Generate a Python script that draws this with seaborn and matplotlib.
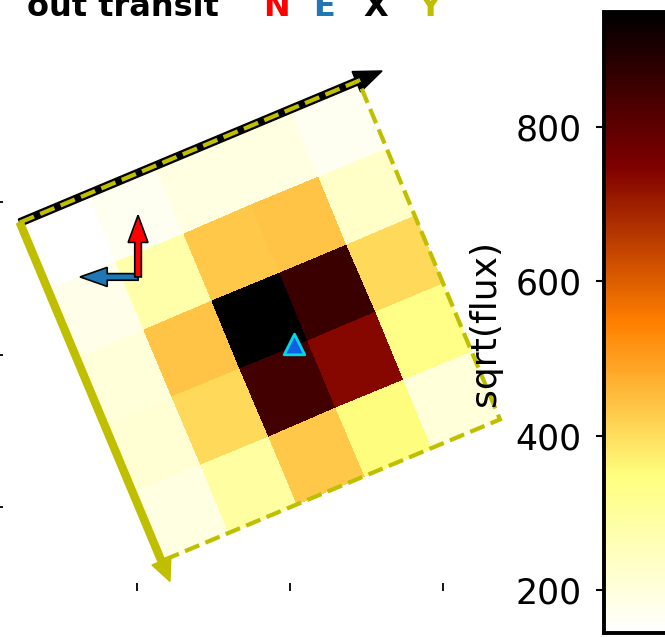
import numpy as np
import matplotlib
matplotlib.use("Agg")
import matplotlib.pyplot as plt
import matplotlib.transforms as mtransforms
from matplotlib.patches import Rectangle
import seaborn as sns

# sqrt(flux) of the 5x5 stamp, rows listed from the top (X arrow) edge
row0 = [144, 168, 192, 192, 168]
row1 = [180, 281, 432, 438, 233]
row2 = [204, 438, 949, 855, 406]
row3 = [216, 406, 845, 736, 333]
row4 = [192, 294, 432, 350, 204]
flux = np.array([row0, row1, row2, row3, row4])

vmin, vmax = 144, 949
cbar_ticks = [200, 400, 600, 800]

# target position in stamp pixels (column, row)
target_col = [2.8]
target_row = [2.97]

title = "out transit"
letters = ["N", "E", "X", "Y"]
letter_colors = ["#ff0000", "#1f77b4", "black", "y"]

# tick locations of the sky frame (labels cut away in the original)
xtick_pos = [1.83, 3.91, 5.99]
ytick_pos = [5.19, 3.11, 1.03]

sns.set_style("ticks")
plt.rcParams["font.family"] = ["DejaVu Sans"]
plt.rcParams["text.color"] = "black"
plt.rcParams["axes.labelcolor"] = "black"
plt.rcParams["xtick.color"] = "black"
plt.rcParams["ytick.color"] = "black"

W, H = 665, 637
fig = plt.figure(figsize=(W / 100, H / 100), dpi=100)


def px_box(l, t, r, b):
    return [l / W, 1 - b / H, (r - l) / W, (b - t) / H]


ax = fig.add_axes(px_box(3, 70, 513, 583))
cax = fig.add_axes(px_box(604, 12, 720, 633))

sns.heatmap(flux, ax=ax, cmap="afmhot_r", vmin=vmin, vmax=vmax, cbar_ax=cax,
            xticklabels=False, yticklabels=False,
            cbar_kws={"ticks": cbar_ticks, "ticklocation": "left"})

cell = 73.4  # pixels per stamp pixel
angle = 22.7
grid_tr = (mtransforms.Affine2D().translate(-2.5, -2.5).scale(1, -1)
           .rotate_deg(angle).translate(3.50, 3.57) + ax.transData)
mesh = ax.collections[0]
mesh.set_transform(grid_tr)

# X / Y pixel direction arrows along the stamp edges
ax.arrow(0, 0, 5.35, 0, transform=grid_tr, width=0.1, head_width=0.3,
         head_length=0.38, length_includes_head=True, fc="k", ec="k",
         zorder=3, clip_on=False)
ax.arrow(0, 0, 0, 5.3, transform=grid_tr, width=0.095, head_width=0.28,
         head_length=0.3, length_includes_head=True, fc="y", ec="y",
         zorder=3, clip_on=False)
ax.add_patch(Rectangle((0, 0), 5, 5, transform=grid_tr, fill=False,
                       ec="y", ls="--", lw=3, zorder=4))

# N / E compass
ax.arrow(1.84, 4.17, -0.79, 0, width=0.09, head_width=0.26, head_length=0.37,
         length_includes_head=True, fc="#1f77b4", ec="k", lw=1.2, zorder=5)
ax.arrow(1.84, 4.17, 0, 0.84, width=0.09, head_width=0.27, head_length=0.37,
         length_includes_head=True, fc="#ff0000", ec="k", lw=1.2, zorder=5)

sns.scatterplot(x=target_col, y=target_row, ax=ax, marker="^", s=220,
                color="#1060e0", edgecolor="#00d8e8", linewidth=2,
                transform=grid_tr, zorder=6, legend=False)

ax.set_xlim(0, 510 / cell)
ax.set_ylim(0, 513 / cell)
ax.set_xticks(xtick_pos)
ax.set_yticks(ytick_pos)
ax.tick_params(labelbottom=False, labelleft=False, bottom=True, left=True,
               length=6, width=1.3, color="black")
for sp in ax.spines.values():
    sp.set_visible(False)

cb = mesh.colorbar
cb.outline.set_linewidth(2.8)
cb.outline.set_edgecolor("black")
cb.ax.tick_params(labelsize=25, length=6, width=1.5, pad=10, colors="black")
cb.set_label("sqrt(flux)", fontsize=26, labelpad=10, color="black")

fig.text(27 / W, 1 - 16 / H, title, fontsize=23, fontweight="bold", va="baseline")
for lx, txt, col in zip([263, 313, 363, 418], letters, letter_colors):
    fig.text(lx / W, 1 - 16 / H, txt, fontsize=23, fontweight="bold",
             color=col, va="baseline")

fig.savefig("out.png", dpi=100)
